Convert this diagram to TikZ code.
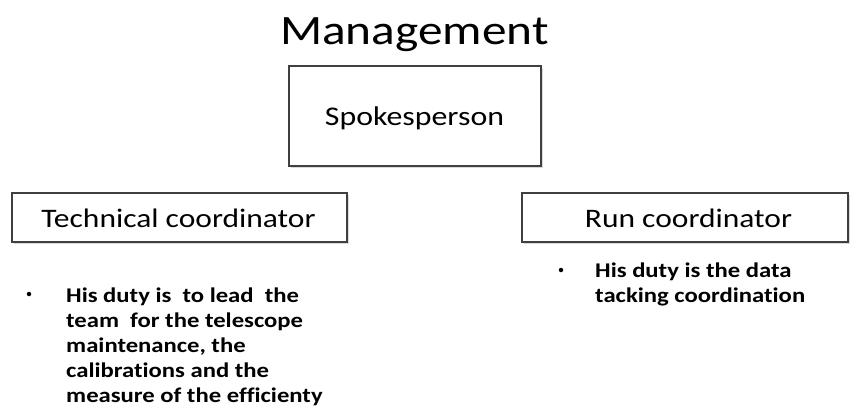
\documentclass[tikz,border=0pt]{standalone}
\usepackage{fontspec}
\setmainfont{Carlito}[FakeStretch=1.18,Ligatures=NoCommon]
\usetikzlibrary{shadows}
\begin{document}
\begin{tikzpicture}[x=1pt,y=-1pt,
  box/.style={draw=black!75, line width=1.1pt, fill=white, inner sep=0pt,
    drop shadow={shadow xshift=1.5pt, shadow yshift=-2pt, opacity=0.25, fill=black!60}},
  ttl/.style={anchor=base, inner sep=0pt, font=\fontsize{26.7}{30}\selectfont},
  bl/.style={anchor=base west, inner sep=0pt, font=\fontsize{20.9}{25}\selectfont\bfseries},
  dot/.style={circle, fill=black, inner sep=0pt, minimum size=4.5pt}]
\useasboundingbox (0,0) rectangle (850,413);
\node[anchor=base, inner sep=0pt, font=\fontsize{41.8}{48}\selectfont] (mgmt) at (414.5,44) {Management};
% boxes
\path[box] (289,66) rectangle (541,166);
\node[anchor=base, inner sep=0pt, font=\fontsize{27}{32}\selectfont] (spk) at (414.5,125) {Spokesperson};
\path[box] (12,193) rectangle (347,242);
\node[ttl] (tech) at (178.5,227) {Technical coordinator};
\path[box] (522,193) rectangle (848,242);
\node[ttl] (run) at (688.5,227) {Run coordinator};
% left bullet
\node[dot] (d1) at (29,294) {};
\node[bl] (l1) at (66,302) {His duty is\ \ to lead\ \ the};
\node[bl] (l2) at (66,327) {team\ \ for the telescope};
\node[bl] (l3) at (66,352) {maintenance, the};
\node[bl] (l4) at (66,377) {calibrations and the};
\node[bl] (l5) at (66,402) {measure of the efficienty};
% right bullet
\node[dot] (d2) at (561,270) {};
\node[bl] (r1) at (595,277) {His duty is the data};
\node[bl] (r2) at (595,302) {tacking coordination};
\end{tikzpicture}
\end{document}
